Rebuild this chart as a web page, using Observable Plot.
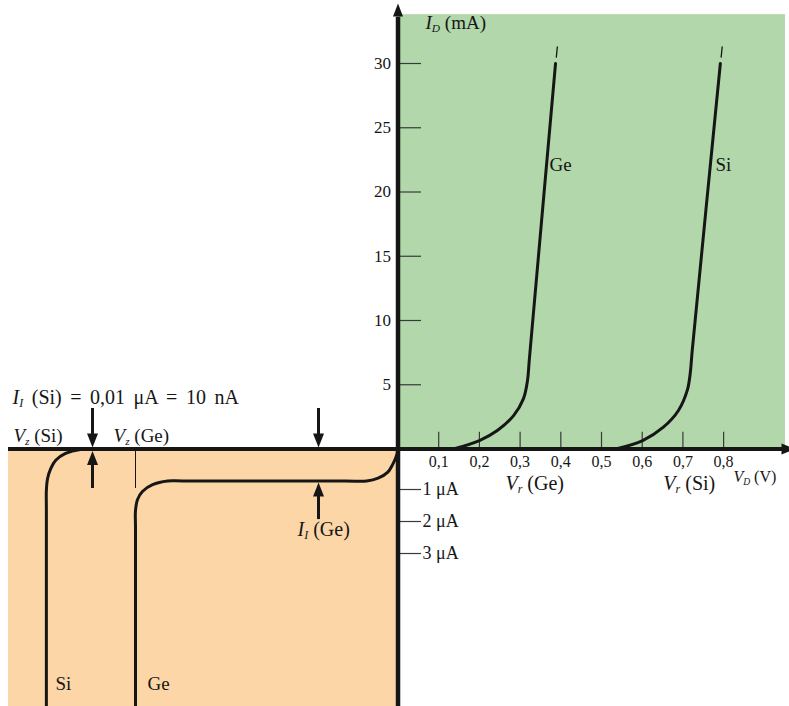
<!DOCTYPE html>
<html><head><meta charset="utf-8">
<script src="https://cdn.jsdelivr.net/npm/d3@7"></script>
<script src="https://cdn.jsdelivr.net/npm/@observablehq/plot@0.6"></script>
<style>html,body{margin:0;padding:0;background:#fff;} svg{display:block;}</style>
</head><body><div id="chart"></div>
<script>
// ---- data (V in volts, forward current in mA, reverse current in µA) ----
const xTicks = [0.1, 0.2, 0.3, 0.4, 0.5, 0.6, 0.7, 0.8];
const xTickLabels = ["0,1", "0,2", "0,3", "0,4", "0,5", "0,6", "0,7", "0,8"];
const yTicks = [5, 10, 15, 20, 25, 30];
const reverseTicksUA = [1, 2, 3];
const reverseTickLabels = ["1 μA", "2 μA", "3 μA"];

const geForwardV = [0.136, 0.2, 0.244, 0.284, 0.308, 0.318, 0.323, 0.387];
const geForwardI = [0, 0.66, 1.44, 2.6, 3.9, 5.3, 7.1, 30];
const siForwardV = [0.535, 0.601, 0.652, 0.689, 0.711, 0.718, 0.723, 0.792];
const siForwardI = [0, 0.66, 1.7, 3.0, 4.6, 5.9, 7.7, 30];
const geDashV = [0.389, 0.3915];
const geDashI = [30.5, 31.3];
const siDashV = [0.794, 0.7965];
const siDashI = [30.5, 31.3];

const geReverseV = [0, -0.003, -0.013, -0.025, -0.049, -0.077, -0.13, -0.53, -0.566, -0.603, -0.628, -0.640, -0.645, -0.645, -0.645];
const geReverseIuA = [0, -0.15, -0.38, -0.57, -0.72, -0.79, -0.79, -0.79, -0.79, -0.88, -1.06, -1.31, -1.66, -2.2, -7.78];
const siReverseV = [0, -0.05, -0.74, -0.780, -0.817, -0.841, -0.853, -0.861, -0.864, -0.864, -0.864];
const siReverseIuA = [-0.01, -0.01, -0.01, -0.01, -0.11, -0.28, -0.48, -0.73, -1.03, -1.6, -7.78];

const vzGe = -0.645;

// ---- tables ----
const rows = (V, I, k) => V.map((v, j) => ({v, i: I[j] * k}));
const geFwd = rows(geForwardV, geForwardI, 1);
const siFwd = rows(siForwardV, siForwardI, 1);
const geRev = rows(geReverseV, geReverseIuA, 0.001);
const siRev = rows(siReverseV, siReverseIuA, 0.001);
const geDash = rows(geDashV, geDashI, 1);
const siDash = rows(siDashV, siDashI, 1);

const INK = "#161616";
const FONT = "Liberation Serif, Times New Roman, serif";

const headUp = {draw(c) { c.moveTo(0, 0); c.lineTo(5.5, 14); c.lineTo(-5.5, 14); c.closePath(); }};
const headDown = {draw(c) { c.moveTo(0, 0); c.lineTo(5.5, -14); c.lineTo(-5.5, -14); c.closePath(); }};
const headRight = {draw(c) { c.moveTo(0, 0); c.lineTo(-14, 5.5); c.lineTo(-14, -5.5); c.closePath(); }};
const headAxisUp = {draw(c) { c.moveTo(0, 0); c.lineTo(5, 13); c.lineTo(-5, 13); c.closePath(); }};

const label = (t, o) => Plot.text([t], {text: d => d, fill: INK, lineAnchor: "bottom", textAnchor: "start", ...o});

const chart = Plot.plot({
  width: 789,
  height: 706,
  margin: 0,
  style: {fontFamily: FONT, background: "#fff", overflow: "visible"},
  x: {type: "linear", domain: [-0.9767, 0.9619], range: [0, 789], axis: null},
  y: {type: "linear", domain: [-0.00778, -0.001, 0, 34.67], range: [706, 489, 448.5, 3], axis: null},
  marks: [
    // quadrants
    Plot.rect([0], {x1: 0, x2: 0.952, y1: 0, y2: 33.8, fill: "#b1d7ab"}),
    Plot.rect([0], {x1: -0.957, x2: 0, y1: -0.00778, y2: 0, fill: "#fdd6a8"}),
    // ticks
    Plot.ruleX(xTicks, {x: d => d, y1: 0, y2: 1.3, stroke: "#3a3a3a", strokeWidth: 1.2}),
    Plot.ruleY(yTicks, {y: d => d, x1: 0, x2: 0.0577, stroke: "#3a3a3a", strokeWidth: 1.2}),
    Plot.ruleY(reverseTicksUA, {y: d => -d * 0.001, x1: 0, x2: 0.0577, stroke: "#3a3a3a", strokeWidth: 1.2}),
    // Vz(Ge) marker
    Plot.ruleX([vzGe], {x: d => d, y1: 0, y2: -0.000975, stroke: INK, strokeWidth: 1}),
    // curves
    Plot.line(geFwd, {x: "v", y: "i", curve: "catmull-rom", stroke: INK, strokeWidth: 3}),
    Plot.line(siFwd, {x: "v", y: "i", curve: "catmull-rom", stroke: INK, strokeWidth: 3}),
    Plot.line(geDash, {x: "v", y: "i", stroke: INK, strokeWidth: 1.3}),
    Plot.line(siDash, {x: "v", y: "i", stroke: INK, strokeWidth: 1.3}),
    Plot.line(geRev, {x: "v", y: "i", curve: "catmull-rom", stroke: INK, strokeWidth: 3}),
    Plot.line(siRev, {x: "v", y: "i", curve: "catmull-rom", stroke: INK, strokeWidth: 3}),
    // axes
    Plot.ruleY([0], {x1: -0.957, x2: 0.96, stroke: INK, strokeWidth: 4}),
    Plot.ruleX([0], {y1: -0.00778, y2: 33.6, stroke: INK, strokeWidth: 4.5}),
    Plot.dot([0], {x: 0, y: 34.67, symbol: headAxisUp, fill: INK, stroke: null}),
    Plot.dot([0], {x: 0.9767, y: 0, symbol: headRight, fill: INK, stroke: null}),
    // leakage current arrows
    Plot.ruleX([-0.7506, -0.1953], {x: d => d, y1: 3.15, y2: 1.0, stroke: INK, strokeWidth: 3}),
    Plot.dot([-0.7506, -0.1953], {x: d => d, y: 0.12, symbol: headDown, fill: INK, stroke: null}),
    Plot.ruleX([-0.7506], {x: d => d, y1: -0.000975, y2: -0.0003, stroke: INK, strokeWidth: 3}),
    Plot.dot([-0.7506], {x: d => d, y: -0.00005, symbol: headUp, fill: INK, stroke: null}),
    Plot.ruleX([-0.1953], {x: d => d, y1: -0.00194, y2: -0.0012, stroke: INK, strokeWidth: 3}),
    Plot.dot([-0.1953], {x: d => d, y: -0.000827, symbol: headUp, fill: INK, stroke: null}),
    // tick labels
    Plot.text(xTicks, {x: d => d, y: 0, dy: 17.5, text: (d, j) => xTickLabels[j], lineAnchor: "bottom", textAnchor: "middle", fontSize: 16, fill: INK}),
    Plot.text(yTicks, {x: 0, y: d => d, dx: -7, text: d => String(d), lineAnchor: "middle", textAnchor: "end", fontSize: 17, fill: INK}),
    Plot.text(reverseTicksUA, {x: 0.0577, y: d => -d * 0.001, dx: 1, text: (d, j) => reverseTickLabels[j], lineAnchor: "middle", textAnchor: "start", fontSize: 18, fill: INK}),
    // labels
    label("I_D (mA)", {x: 0.0676, y: 32.65, fontSize: 19}),
    label("V_D (V)", {x: 0.824, y: -0.000827, fontSize: 16}),
    label("V_r (Ge)", {x: 0.264, y: -0.001, fontSize: 20}),
    label("V_r (Si)", {x: 0.652, y: -0.001, fontSize: 20}),
    label("Ge", {x: 0.372, y: 21.67, fontSize: 19}),
    label("Si", {x: 0.780, y: 21.67, fontSize: 19}),
    label("I_I (Si) = 0,01 μA = 10 nA", {x: -0.947, y: 3.54, fontSize: 20}),
    label("V_z (Si)", {x: -0.945, y: 0.506, fontSize: 19}),
    label("V_z (Ge)", {x: -0.699, y: 0.506, fontSize: 19}),
    label("I_I (Ge)", {x: -0.247, y: -0.00244, fontSize: 20}),
    label("Si", {x: -0.8415, y: -0.00725, fontSize: 19}),
    label("Ge", {x: -0.6155, y: -0.00725, fontSize: 19})
  ]
});

// italic symbol with subscript, rest upright
const NS = "http://www.w3.org/2000/svg";
chart.querySelectorAll("text").forEach(t => {
  const m = /^(.)_(.)(.*)$/.exec(t.textContent);
  if (!m) return;
  t.textContent = "";
  const a = document.createElementNS(NS, "tspan");
  a.setAttribute("font-style", "italic"); a.textContent = m[1];
  const b = document.createElementNS(NS, "tspan");
  b.setAttribute("font-style", "italic"); b.setAttribute("font-size", "0.6em"); b.setAttribute("dy", "3");
  b.textContent = m[2];
  const c = document.createElementNS(NS, "tspan");
  c.setAttribute("dy", "-3"); c.textContent = m[3];
  t.append(a, b, c);
  if (m[3].includes("nA")) t.style.wordSpacing = "3.5px";
});
document.getElementById("chart").append(chart);
</script>
</body></html>
